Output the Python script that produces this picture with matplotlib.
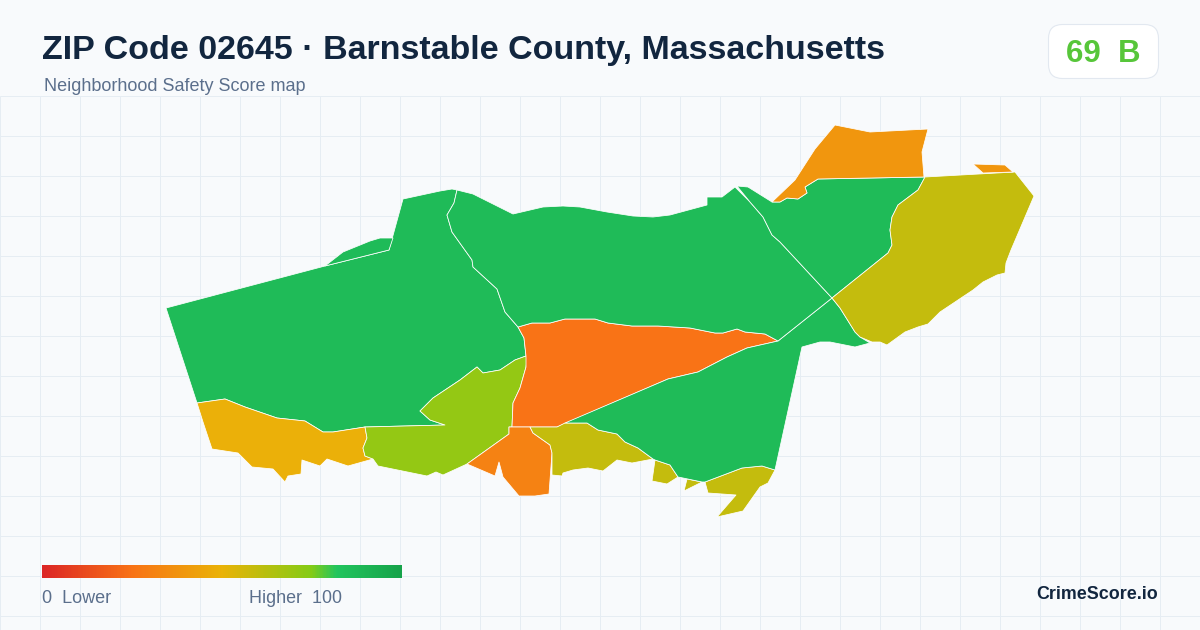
import matplotlib
matplotlib.use("Agg")
import matplotlib.pyplot as plt
import numpy as np
from matplotlib.colors import LinearSegmentedColormap
from matplotlib.patches import FancyBboxPatch, Polygon

plt.rcParams['font.family'] = ['Liberation Sans', 'DejaVu Sans']

title = "ZIP Code 02645 · Barnstable County, Massachusetts"
subtitle = "Neighborhood Safety Score map"
badge = "69  B"
brand = "CrimeScore.io"

# color scale of the legend bar
scale_stops = [0.0, 0.25, 0.5, 0.75, 0.82, 1.0]
scale_colors = ['#dc2626', '#f97316', '#eab308', '#84cc16', '#22c55e', '#16a34a']

# score of each zone
scores = {
    'west': 87, 'north': 87, 'northeast': 87, 'southeast': 87, 'nw_tab': 87,
    'southwest': 49, 'south_lime': 71, 'center': 25, 'south_orange': 31,
    'south_olive': 59, 'islet_a': 59, 'islet_b': 59, 'point': 59, 'east': 59,
    'north_amber': 39, 'islet_c': 39,
}

# outlines, in image pixels
west = [(166, 308), (325, 266), (389, 250), (403, 199), (440, 191), (452, 189), (457, 190), (454, 203), (447, 215),
        (452, 232), (472, 260), (473, 267), (497, 289), (505, 312), (518, 327), (524, 338), (526, 356),
        (515, 360), (500, 370), (483, 373), (477, 367), (460, 380), (433, 398), (420, 411), (430, 420),
        (445, 425), (365, 427), (333, 432), (323, 432), (305, 421), (277, 418), (245, 407), (225, 399),
        (197, 403)]
nw_tab = [(325, 266), (343, 252), (370, 241), (380, 238), (393, 238), (389, 250)]
southwest = [(197, 403), (225, 399), (245, 407), (277, 418), (305, 421), (323, 432), (333, 432), (365, 427),
             (367, 438), (363, 448), (365, 456), (373, 459), (348, 466), (327, 459), (320, 466), (302, 460),
             (301, 474), (288, 476), (285, 482), (273, 469), (252, 467), (238, 453), (212, 449), (203, 422)]
south_lime = [(526, 356), (527, 360), (526, 367), (520, 388), (513, 403), (512, 427), (509, 427), (509, 434),
              (467, 464), (443, 475), (436, 472), (427, 476), (378, 466), (373, 459), (365, 456), (363, 448),
              (367, 438), (365, 427), (445, 425), (430, 420), (420, 411), (433, 398), (460, 380), (477, 367),
              (483, 373), (500, 370), (515, 360)]
center = [(518, 327), (532, 323), (550, 323), (565, 319), (595, 319), (608, 323), (632, 326), (658, 326),
          (690, 328), (715, 333), (723, 333), (737, 329), (745, 332), (765, 334), (778, 341), (747, 348),
          (727, 357), (698, 372), (668, 379), (557, 427), (512, 427), (513, 403), (520, 388), (526, 367),
          (526, 356), (524, 338)]
south_orange = [(509, 427), (530, 427), (533, 433), (550, 445), (552, 453), (549, 494), (535, 496), (519, 496),
                (503, 477), (499, 462), (495, 476), (467, 464), (509, 434)]
south_olive = [(530, 427), (557, 427), (565, 423), (587, 423), (598, 430), (617, 434), (625, 442), (638, 448),
               (653, 459), (632, 463), (617, 460), (603, 471), (588, 468), (573, 470), (563, 473), (562, 476),
               (552, 475), (552, 453), (550, 445), (533, 433)]
islet_a = [(655, 460), (670, 465), (678, 477), (667, 484), (652, 481)]
islet_b = [(687, 479), (702, 482), (684, 491)]
point = [(705, 482), (742, 468), (762, 466), (775, 470), (768, 483), (760, 487), (743, 511), (717, 517),
         (736, 495), (708, 493)]
southeast = [(778, 341), (747, 348), (727, 357), (698, 372), (668, 379), (565, 423), (587, 423), (598, 430),
             (617, 434), (625, 442), (638, 448), (653, 459), (655, 460), (670, 465), (678, 477), (683, 478),
             (702, 482), (705, 482), (742, 468), (762, 466), (775, 470), (802, 347), (820, 342), (830, 342),
             (840, 344), (855, 347), (870, 343), (860, 337), (855, 332), (840, 308), (832, 298)]
north = [(457, 190), (473, 194), (513, 214), (543, 207), (563, 206), (580, 207), (607, 212), (633, 216),
         (653, 217), (670, 215), (707, 205), (707, 197), (722, 197), (735, 187), (750, 202), (763, 217),
         (772, 235), (780, 242), (832, 298), (778, 341), (765, 334), (745, 332), (737, 329), (723, 333),
         (715, 333), (690, 328), (658, 326), (632, 326), (608, 323), (595, 319), (565, 319), (550, 323),
         (532, 323), (518, 327), (505, 312), (497, 289), (473, 267), (472, 260), (452, 232), (447, 215),
         (454, 203)]
northeast = [(737, 186), (748, 187), (772, 202), (780, 202), (787, 198), (798, 199), (807, 193), (805, 187),
             (818, 179), (925, 177), (918, 190), (898, 205), (892, 217), (890, 230), (892, 245), (888, 253),
             (832, 298), (780, 242), (772, 235), (763, 217), (750, 202)]
east = [(925, 177), (1015, 172), (1034, 196), (1011, 250), (1006, 263), (1005, 273), (997, 275), (983, 282),
        (973, 290), (940, 312), (928, 324), (918, 327), (905, 332), (887, 345), (880, 342), (872, 342),
        (860, 337), (855, 332), (840, 308), (832, 298), (888, 253), (892, 245), (890, 230),
        (892, 217), (898, 205), (918, 190)]
north_amber = [(835, 125), (870, 132), (928, 129), (922, 152), (924, 177), (818, 179), (805, 187), (807, 193),
               (798, 199), (787, 198), (780, 202), (772, 202), (795, 180), (815, 149)]
islet_c = [(973, 164), (1005, 165), (1013, 172), (983, 173)]

zones = {'west': west, 'nw_tab': nw_tab, 'southwest': southwest, 'south_lime': south_lime, 'center': center,
         'south_orange': south_orange, 'south_olive': south_olive, 'islet_a': islet_a, 'islet_b': islet_b,
         'point': point, 'southeast': southeast, 'north': north, 'northeast': northeast, 'east': east,
         'north_amber': north_amber, 'islet_c': islet_c}

cmap = LinearSegmentedColormap.from_list('safety', list(zip(scale_stops, scale_colors)))

fig = plt.figure(figsize=(12, 6.3), dpi=100, facecolor='#f8fafc')
ax = fig.add_axes([0, 0, 1, 1])
ax.set_xlim(0, 1200)
ax.set_ylim(630, 0)
ax.axis('off')

# background grid below the header
ax.vlines(np.arange(0, 1200, 40), 96, 630, color='#e6edf3', lw=0.72, zorder=1)
ax.hlines(np.arange(96, 630, 40), 0, 1200, color='#e6edf3', lw=0.72, zorder=1)

for name, outline in zones.items():
    ax.add_patch(Polygon(outline, closed=True, facecolor=cmap(scores[name] / 100), edgecolor='white',
                         lw=0.55, joinstyle='round', zorder=2))

ax.text(42, 59, title, fontsize=24.45, fontweight='bold', color='#12263f', va='baseline', ha='left')
ax.text(44, 91, subtitle, fontsize=13, color='#5b6f8c', va='baseline', ha='left')

ax.add_patch(FancyBboxPatch((1048.5 + 14, 24.5 + 14), 110 - 28, 54 - 28, boxstyle='round,pad=14,rounding_size=14',
                            facecolor='white', edgecolor='#e2e8f0', lw=0.8, zorder=3))
ax.text(1103, 62, badge, fontsize=22.5, fontweight='bold', color='#57c63a', va='baseline', ha='center', zorder=4)

# legend bar
gradient = np.linspace(0, 1, 360).reshape(1, -1)
ax.imshow(gradient, cmap=cmap, extent=(42, 402, 578, 565), aspect='auto', zorder=3)
ax.set_xlim(0, 1200)
ax.set_ylim(630, 0)
ax.text(42, 603, "0  Lower", fontsize=13, color='#5b6f8c', va='baseline', ha='left')
ax.text(249, 603, "Higher  100", fontsize=12.85, color='#5b6f8c', va='baseline', ha='left')
ax.text(1158, 599, brand, fontsize=12.9, fontweight='bold', color='#12263f', va='baseline', ha='right')

fig.savefig('out.png', dpi=100, facecolor=fig.get_facecolor())
